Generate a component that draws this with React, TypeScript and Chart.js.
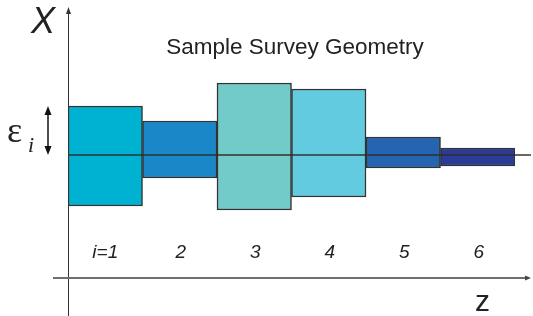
import React, { useEffect, useRef } from "react";
import { Chart, registerables } from "chart.js";

Chart.register(...registerables);

const categories = ["i=1", "2", "3", "4", "5", "6"];
const lowValues = [-51, -23, -55, -42, -13, -11];
const highValues = [49, 34, 72, 66, 18, 7];
const barColors = ["#00B2D2", "#1A88C8", "#72CBC9", "#63CBE0", "#2464B0", "#2B3C98"];
const titleText = "Sample Survey Geometry";
const yAxisLabel = "X";
const xAxisLabel = "z";
const epsilonLabel = "ε";
const epsilonSub = "i";

const SANS = "'Liberation Sans', Arial, sans-serif";
const SERIF = "'Liberation Serif', 'Times New Roman', serif";

function arrowHead(ctx: CanvasRenderingContext2D, x: number, y: number, dir: "up" | "down" | "right", len: number, half: number) {
  ctx.beginPath();
  if (dir === "up") {
    ctx.moveTo(x, y);
    ctx.lineTo(x - half, y + len);
    ctx.lineTo(x + half, y + len);
  } else if (dir === "down") {
    ctx.moveTo(x, y);
    ctx.lineTo(x - half, y - len);
    ctx.lineTo(x + half, y - len);
  } else {
    ctx.moveTo(x, y);
    ctx.lineTo(x - len, y - half);
    ctx.lineTo(x - len, y + half);
  }
  ctx.closePath();
  ctx.fill();
}

const decorPlugin = {
  id: "decor",
  afterDatasetsDraw(chart: any) {
    const ctx: CanvasRenderingContext2D = chart.ctx;
    const xs = chart.scales.x;
    const ys = chart.scales.y;
    const area = chart.chartArea;
    const y0 = ys.getPixelForValue(0);
    ctx.save();

    // center line
    ctx.strokeStyle = "rgba(45,45,45,0.72)";
    ctx.lineWidth = 2;
    ctx.beginPath();
    ctx.moveTo(area.left, y0);
    ctx.lineTo(area.right + 16, y0);
    ctx.stroke();

    // vertical axis
    ctx.strokeStyle = "#333";
    ctx.fillStyle = "#333";
    ctx.lineWidth = 1;
    ctx.beginPath();
    ctx.moveTo(area.left + 0.5, chart.height);
    ctx.lineTo(area.left + 0.5, area.top + 4);
    ctx.stroke();
    arrowHead(ctx, area.left + 0.5, area.top - 1, "up", 7, 2.5);

    // horizontal (z) axis
    ctx.strokeStyle = "#6e6e6e";
    ctx.fillStyle = "#444";
    ctx.lineWidth = 2;
    ctx.beginPath();
    ctx.moveTo(area.left - 15, area.bottom);
    ctx.lineTo(area.right + 12, area.bottom);
    ctx.stroke();
    arrowHead(ctx, area.right + 16, area.bottom, "right", 6, 2.5);

    // category labels
    ctx.fillStyle = "#222";
    ctx.font = `italic 19px ${SANS}`;
    ctx.textAlign = "center";
    ctx.textBaseline = "alphabetic";
    categories.forEach((c, i) => {
      ctx.fillText(c, xs.getPixelForValue(i) + (i === 0 ? 0 : 1), 258);
    });

    // title
    ctx.font = `22.5px ${SANS}`;
    ctx.fillStyle = "#222";
    ctx.fillText(titleText, 295, 54);

    // axis labels
    ctx.font = `italic 36px ${SANS}`;
    ctx.textAlign = "left";
    ctx.fillText(yAxisLabel, 31, 33);
    ctx.font = `30px ${SANS}`;
    ctx.fillText(xAxisLabel, 475, 311);

    // epsilon
    ctx.font = `36px ${SERIF}`;
    ctx.fillText(epsilonLabel, 7, 142);
    ctx.font = `italic 22px ${SERIF}`;
    ctx.fillText(epsilonSub, 28, 152);

    // double arrow
    const ax = 48;
    const yTop = ys.getPixelForValue(highValues[0]);
    ctx.strokeStyle = "#111";
    ctx.fillStyle = "#111";
    ctx.lineWidth = 1.5;
    ctx.beginPath();
    ctx.moveTo(ax, yTop + 6);
    ctx.lineTo(ax, y0 - 6);
    ctx.stroke();
    arrowHead(ctx, ax, yTop, "up", 9, 3.5);
    arrowHead(ctx, ax, y0, "down", 9, 3.5);

    ctx.restore();
  },
};

export default function App() {
  const ref = useRef<HTMLCanvasElement | null>(null);
  useEffect(() => {
    if (!ref.current) return;
    const chart = new Chart(ref.current, {
      type: "bar",
      data: {
        labels: categories,
        datasets: [
          {
            data: categories.map((_, i) => [lowValues[i], highValues[i]]) as any,
            backgroundColor: barColors,
            borderColor: "#333",
            borderWidth: 1.5,
            borderSkipped: false,
            categoryPercentage: 1,
            barPercentage: 1,
          },
        ],
      },
      options: {
        responsive: false,
        animation: false,
        layout: { padding: { left: 68, right: 18, top: 8, bottom: 38 } },
        plugins: { legend: { display: false }, tooltip: { enabled: false }, title: { display: false } },
        scales: {
          x: { display: false },
          y: { display: false, min: -123, max: 147 },
        },
      },
      plugins: [decorPlugin],
    });
    return () => chart.destroy();
  }, []);
  return (
    <div style={{ position: "fixed", left: 0, top: 0, width: 533, height: 316, background: "#fff" }}>
      <canvas ref={ref} width={533} height={316} style={{ display: "block" }} />
    </div>
  );
}
